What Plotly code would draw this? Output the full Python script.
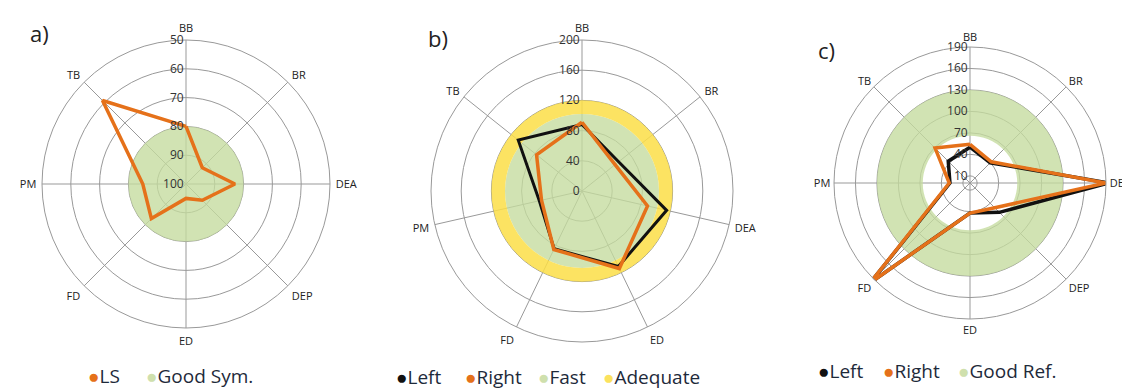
import plotly.graph_objects as go

# ---------------- data ----------------
cats_a = ["BB", "BR", "DEA", "DEP", "ED", "FD", "PM", "TB"]
ls_a = [80, 92, 83, 92, 95, 83, 85, 59]
good_sym = [80, 100]          # band limits (outer value, centre value)
ticks_a = [50, 60, 70, 80, 90, 100]

cats_b = ["BB", "BR", "DEA", "ED", "FD", "PM", "TB"]
left_b = [88, 62, 115, 111, 85, 58, 108]
right_b = [91, 56, 89, 114, 86, 55, 77]
fast_b = [0, 102]
adequate_b = [102, 120]
ticks_b = [0, 40, 80, 120, 160, 200]

cats_c = ["BB", "BR", "DEA", "DEP", "ED", "FD", "PM", "TB"]
left_c = [50, 40, 194, 58, 42, 197, 28, 43]
right_c = [54, 42, 190, 49, 42, 197, 29, 69]
good_ref = [66, 130]
ticks_c = [10, 40, 70, 100, 130, 160, 190]

ORANGE = "#e5711a"
BLACK = "#111111"
GREEN = "rgba(196,219,158,0.78)"
YELLOW = "rgba(252,222,70,0.85)"
GRID = "#999999"
FONT = "Open Sans"


def closed(v):
    return list(v) + [v[0]]


fig = go.Figure()

# ---- panel a ----
fig.add_trace(go.Barpolar(r=[good_sym[1] - good_sym[0]], base=[good_sym[0]], theta=[cats_a[0]],
                          width=[360], marker=dict(color=GREEN, line=dict(width=0)),
                          subplot="polar", showlegend=False, hoverinfo="skip"))
fig.add_trace(go.Scatterpolar(r=closed(ls_a), theta=closed(cats_a), mode="lines",
                              line=dict(color=ORANGE, width=3.5), subplot="polar",
                              showlegend=False))

# ---- panel b ----
fig.add_trace(go.Barpolar(r=[fast_b[1] - fast_b[0]], base=[fast_b[0]], theta=[cats_b[0]],
                          width=[360], marker=dict(color=GREEN, line=dict(width=0)),
                          subplot="polar2", showlegend=False, hoverinfo="skip"))
fig.add_trace(go.Barpolar(r=[adequate_b[1] - adequate_b[0]], base=[adequate_b[0]], theta=[cats_b[0]],
                          width=[360], marker=dict(color=YELLOW, line=dict(width=0)),
                          subplot="polar2", showlegend=False, hoverinfo="skip"))
fig.add_trace(go.Scatterpolar(r=closed(left_b), theta=closed(cats_b), mode="lines",
                              line=dict(color=BLACK, width=3), subplot="polar2",
                              showlegend=False))
fig.add_trace(go.Scatterpolar(r=closed(right_b), theta=closed(cats_b), mode="lines",
                              line=dict(color=ORANGE, width=3.5), subplot="polar2",
                              showlegend=False))

# ---- panel c ----
fig.add_trace(go.Barpolar(r=[good_ref[1] - good_ref[0]], base=[good_ref[0]], theta=[cats_c[0]],
                          width=[360], marker=dict(color=GREEN, line=dict(width=0)),
                          subplot="polar3", showlegend=False, hoverinfo="skip"))
fig.add_trace(go.Scatterpolar(r=closed(left_c), theta=closed(cats_c), mode="lines",
                              line=dict(color=BLACK, width=3.5), subplot="polar3",
                              cliponaxis=False, showlegend=False))
fig.add_trace(go.Scatterpolar(r=closed(right_c), theta=closed(cats_c), mode="lines",
                              line=dict(color=ORANGE, width=3.5), subplot="polar3",
                              cliponaxis=False, showlegend=False))


def polar_layout(domx, domy, cats, rng, tickvals, tlen):
    return dict(
        domain=dict(x=domx, y=domy),
        bgcolor="white",
        barmode="overlay",
        angularaxis=dict(type="category", categoryarray=cats, direction="clockwise",
                         rotation=90, showgrid=True, gridcolor=GRID, gridwidth=1,
                         showline=True, linecolor=GRID, linewidth=1,
                         ticks="outside", ticklen=tlen, tickcolor="rgba(0,0,0,0)",
                         tickfont=dict(family=FONT, size=11, color="#222")),
        radialaxis=dict(range=rng, tickvals=tickvals, angle=90, side="counterclockwise",
                        showgrid=True, gridcolor=GRID, gridwidth=1, showline=False,
                        ticks="", tickangle=90,
                        tickfont=dict(family=FONT, size=12, color="#333")),
    )


W, H = 1130, 390


def dom(cx, cy, r):
    return [(cx - r) / W, (cx + r) / W], [1 - (cy + r) / H, 1 - (cy - r) / H]


dxa, dya = dom(178, 176, 144)
dxb, dyb = dom(574, 183, 151)
dxc, dyc = dom(962, 175, 136)

fig.update_layout(
    width=W, height=H,
    margin=dict(l=0, r=0, t=0, b=0),
    paper_bgcolor="white",
    showlegend=False,
    polar=polar_layout(dxa, dya, cats_a, [100, 50], ticks_a, 3),
    polar2=polar_layout(dxb, dyb, cats_b, [0, 200], ticks_b, 3),
    polar3=polar_layout(dxc, dyc, cats_c, [0, 190], ticks_c, 1),
)

# panel letters
for txt, x, y in [("a)", 20, 25), ("b)", 418, 30), ("c)", 808, 42)]:
    fig.add_annotation(text=txt, x=x / W, y=1 - y / H, xref="paper", yref="paper",
                       xanchor="left", yanchor="middle", showarrow=False,
                       font=dict(family=FONT, size=22, color="#222"))

# legends (text items)
legend_items = [
    ("LS", ORANGE, 78, 377), ("Good Sym.", "#cfe0ad", 136, 377),
    ("Left", BLACK, 386, 378), ("Right", ORANGE, 455, 378),
    ("Fast", "#cfe0ad", 528, 378), ("Adequate", "#fbe25e", 593, 378),
    ("Left", BLACK, 808, 372), ("Right", ORANGE, 873, 372), ("Good Ref.", "#cfe0ad", 948, 372),
]
for name, col, x, y in legend_items:
    fig.add_annotation(text=f"<span style='color:{col}'>●</span>{name}",
                       x=x / W, y=1 - (y - 9) / H, xref="paper", yref="paper",
                       xanchor="left", yanchor="middle", showarrow=False,
                       font=dict(family=FONT, size=19, color="#1e2a3a"))

fig.write_html("out.html")
